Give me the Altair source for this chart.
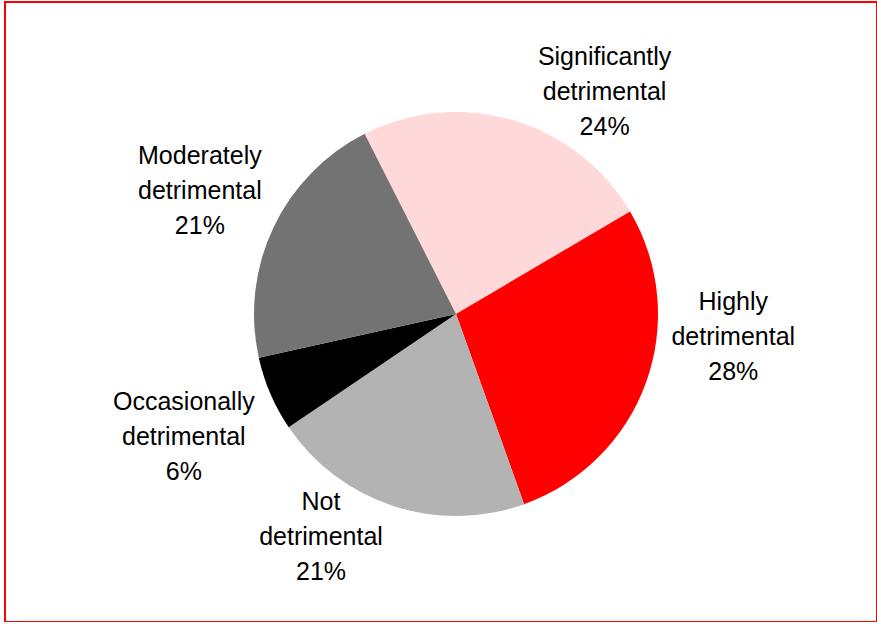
import math
import altair as alt
import pandas as pd

categories = ["Significantly detrimental", "Highly detrimental", "Not detrimental",
              "Occasionally detrimental", "Moderately detrimental"]
shares = [24, 28, 21, 6, 21]
colors = ["#FFD9D9", "#FF0000", "#B3B3B3", "#000000", "#737373"]

df = pd.DataFrame({
    "category": categories,
    "share": shares,
    "order": list(range(len(categories))),
    "label": [c.replace(" ", "\n") + "\n" + f"{v}%" for c, v in zip(categories, shares)],
})

start = math.radians(-26.9)
theta_scale = alt.Scale(domain=[0, 100], range=[start, start + 2 * math.pi])
CX, CY = 451, 312
LH = 35

pie = alt.Chart(df).mark_arc(outerRadius=202).encode(
    theta=alt.Theta("share:Q", stack=True, scale=theta_scale),
    order=alt.Order("order:Q"),
    x=alt.value(CX),
    y=alt.value(CY),
    color=alt.Color("category:N", scale=alt.Scale(domain=categories, range=colors), legend=None),
)

text_base = alt.Chart(df).transform_window(
    cum="sum(share)", sort=[alt.SortField("order")]
).transform_calculate(
    mid="datum.cum - datum.share / 2"
).encode(
    theta=alt.Theta("mid:Q", stack=None, scale=theta_scale),
    x=alt.value(CX),
    y=alt.value(CY),
    text="label:N",
)

offsets = {
    "Significantly detrimental": (70, 47),
    "Highly detrimental": (14, -72),
    "Not detrimental": (-48, -43),
    "Occasionally detrimental": (-15, 12),
    "Moderately detrimental": (-3, -3),
}

layers = [pie]
for cat in categories:
    dx, dy = offsets[cat]
    layers.append(
        text_base.transform_filter(alt.datum.category == cat)
        .mark_text(radius=280, dx=dx, dy=dy - LH, font="Liberation Sans", fontSize=25,
                   lineHeight=LH, lineBreak="\n", align="center", baseline="middle",
                   color="black")
    )

chart = alt.layer(*layers).properties(
    width=872, height=620,
    autosize=alt.AutoSizeParams(type="none"),
    padding={"left": 5, "top": 2, "right": 0, "bottom": 0},
).configure_view(stroke="#FF0000", strokeWidth=2)

chart.save("out.html", embed_options={"renderer": "svg", "actions": False})
